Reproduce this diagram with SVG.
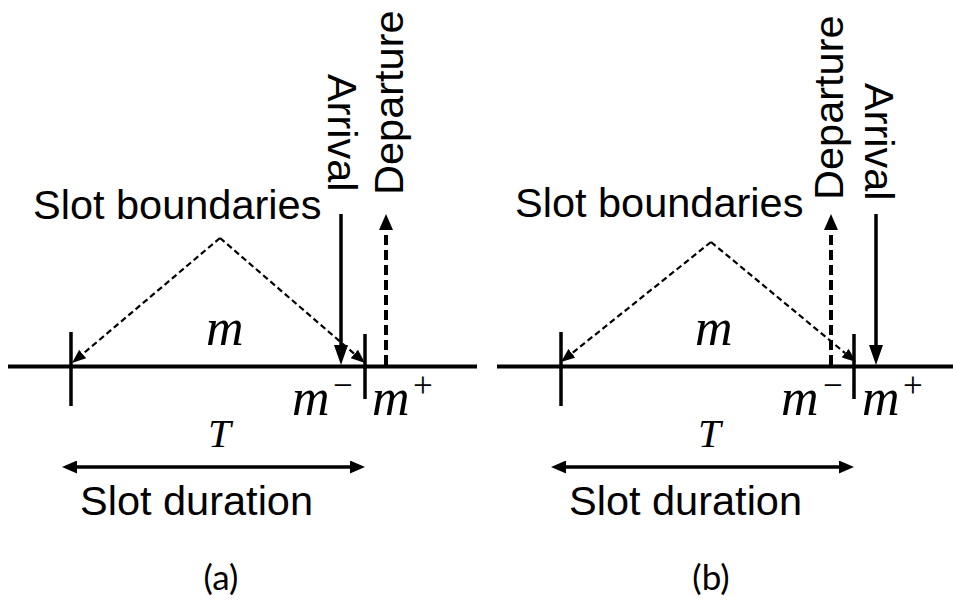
<svg xmlns="http://www.w3.org/2000/svg" width="953" height="601" viewBox="0 0 953 601">
<style>
.lbl{font-family:"Liberation Sans",Arial,sans-serif;font-size:41.5px;fill:#000}
.math{font-family:"Liberation Serif","Times New Roman",serif;font-style:italic;fill:#000}
.sup{font-family:"Liberation Serif","Times New Roman",serif;font-size:35px;fill:#000}
.cap{font-family:Lato,"Noto Sans",sans-serif;font-size:35px;fill:#000;text-anchor:middle}
.axis{stroke:#000;stroke-width:4;fill:none}
.tick{stroke:#000;stroke-width:3.5;fill:none}
.sb{stroke:#000;stroke-width:2.2;stroke-dasharray:6 3.5;fill:none;marker-end:url(#hSb)}
.arr{stroke:#000;stroke-width:3.5;fill:none;marker-end:url(#hArr)}
.dep{stroke:#000;stroke-width:4;stroke-dasharray:10 5;fill:none;marker-end:url(#hDep)}
.dur{stroke:#000;stroke-width:3.5;fill:none;marker-start:url(#hDur);marker-end:url(#hDur)}
</style>
<defs>
<marker id="hSb" viewBox="0 0 14 11" refX="0" refY="5.5" markerWidth="14" markerHeight="11" markerUnits="userSpaceOnUse" orient="auto"><path d="M0,0 L14,5.5 L0,11 z" fill="#000"/></marker>
<marker id="hArr" viewBox="0 0 20 14" refX="0" refY="7" markerWidth="20" markerHeight="14" markerUnits="userSpaceOnUse" orient="auto"><path d="M0,0 L20,7 L0,14 z" fill="#000"/></marker>
<marker id="hDep" viewBox="0 0 16 14" refX="0" refY="7" markerWidth="16" markerHeight="14" markerUnits="userSpaceOnUse" orient="auto"><path d="M0,0 L16,7 L0,14 z" fill="#000"/></marker>
<marker id="hDur" viewBox="0 0 15 13" refX="0" refY="6.5" markerWidth="15" markerHeight="13" markerUnits="userSpaceOnUse" orient="auto-start-reverse"><path d="M0,0 L15,6.5 L0,13 z" fill="#000"/></marker>
</defs>

<g id="panel-a">
  <g id="a-axis">
    <line class="axis" x1="8" y1="366.5" x2="477" y2="366.5"/>
    <line class="tick" x1="71" y1="332" x2="71" y2="406"/>
    <line class="tick" x1="365" y1="334" x2="365" y2="399"/>
  </g>
  <g id="a-slot-boundaries"><text class="lbl" x="33" y="219">Slot boundaries</text></g>
  <g id="a-arrival"><text class="lbl" transform="translate(328,74) rotate(90)">Arrival</text></g>
  <g id="a-departure"><text class="lbl" transform="translate(403,195) rotate(-90)">Departure</text></g>
  <g id="a-m"><text class="math" font-size="52" x="206" y="345">m</text></g>
  <g id="a-mminus"><text class="math" font-size="52" x="292" y="415">m</text><text class="sup" x="333" y="397">−</text></g>
  <g id="a-mplus"><text class="math" font-size="52" x="372" y="415">m</text><text class="sup" x="413" y="397">+</text></g>
  <g id="a-T"><text class="math" font-size="41" x="208" y="447">T</text></g>
  <g id="a-duration"><text class="lbl" x="80" y="515">Slot duration</text></g>
  <g id="a-caption"><text class="cap" x="221" y="590">(a)</text></g>
  <g id="a-connectors">
    <line class="sb" x1="220" y1="238" x2="82.7" y2="354"/>
    <line class="sb" x1="220" y1="238" x2="354.4" y2="353.9"/>
    <line class="arr" x1="341" y1="214" x2="341" y2="345"/>
    <line class="dep" x1="386" y1="365" x2="386" y2="230"/>
    <line class="dur" x1="77" y1="467" x2="350" y2="467"/>
  </g>
</g>

<g id="panel-b">
  <g id="b-axis">
    <line class="axis" x1="497" y1="366.5" x2="953" y2="366.5"/>
    <line class="tick" x1="561" y1="332" x2="561" y2="406"/>
    <line class="tick" x1="854" y1="334" x2="854" y2="399"/>
  </g>
  <g id="b-slot-boundaries"><text class="lbl" x="515" y="217">Slot boundaries</text></g>
  <g id="b-departure"><text class="lbl" transform="translate(843,200) rotate(-90)">Departure</text></g>
  <g id="b-arrival"><text class="lbl" transform="translate(865,83) rotate(90)">Arrival</text></g>
  <g id="b-m"><text class="math" font-size="52" x="695" y="345">m</text></g>
  <g id="b-mminus"><text class="math" font-size="52" x="781" y="415">m</text><text class="sup" x="823" y="397">−</text></g>
  <g id="b-mplus"><text class="math" font-size="52" x="862" y="415">m</text><text class="sup" x="903" y="397">+</text></g>
  <g id="b-T"><text class="math" font-size="41" x="698" y="447">T</text></g>
  <g id="b-duration"><text class="lbl" x="569" y="515">Slot duration</text></g>
  <g id="b-caption"><text class="cap" x="711" y="590">(b)</text></g>
  <g id="b-connectors">
    <line class="sb" x1="711" y1="242" x2="571.9" y2="353.3"/>
    <line class="sb" x1="711" y1="242" x2="845.2" y2="353.1"/>
    <line class="dep" x1="831" y1="365" x2="831" y2="230"/>
    <line class="arr" x1="876" y1="214" x2="876" y2="345"/>
    <line class="dur" x1="566" y1="467" x2="839" y2="467"/>
  </g>
</g>
</svg>
